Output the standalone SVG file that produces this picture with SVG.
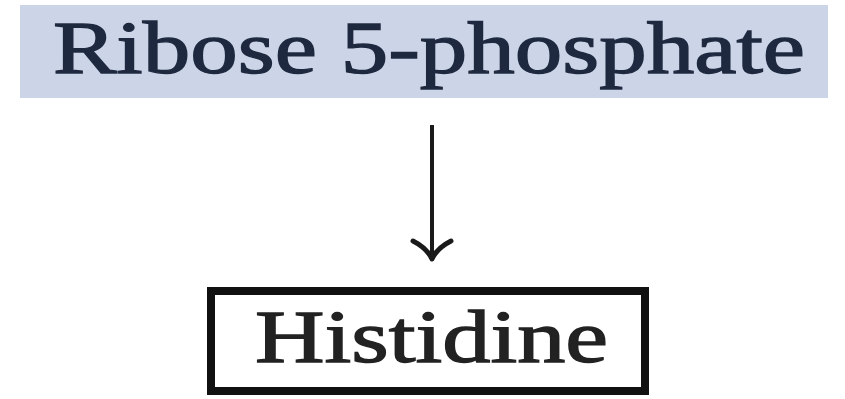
<svg xmlns="http://www.w3.org/2000/svg" width="845" height="399" viewBox="0 0 845 399">
  <style>
    .label { font-family: "Liberation Serif", "Times New Roman", serif; font-size: 73px; stroke-width: 1.3; }
    .edge { stroke: #1a1a1a; stroke-width: 4; fill: none; }
    .head { stroke: #1a1a1a; stroke-width: 5; fill: none; stroke-linecap: round; stroke-linejoin: round; }
  </style>
  <rect width="845" height="399" fill="#ffffff"/>

  <g id="ribose-5-phosphate">
    <rect x="20" y="5" width="808" height="93" fill="#ccd5e7"/>
    <text class="label" x="53" y="73" fill="#1e2940" stroke="#1e2940" textLength="752" lengthAdjust="spacingAndGlyphs">Ribose 5-phosphate</text>
  </g>

  <g id="histidine">
    <rect x="211" y="291" width="434" height="100" fill="#ffffff" stroke="#111111" stroke-width="8"/>
    <text class="label" x="255" y="362" fill="#222222" stroke="#222222" textLength="353" lengthAdjust="spacingAndGlyphs">Histidine</text>
  </g>

  <g id="connectors">
    <line class="edge" x1="432" y1="125" x2="432" y2="256"/>
    <path class="head" d="M413,241 Q427,248 432,259 Q437,248 451,241"/>
  </g>
</svg>
